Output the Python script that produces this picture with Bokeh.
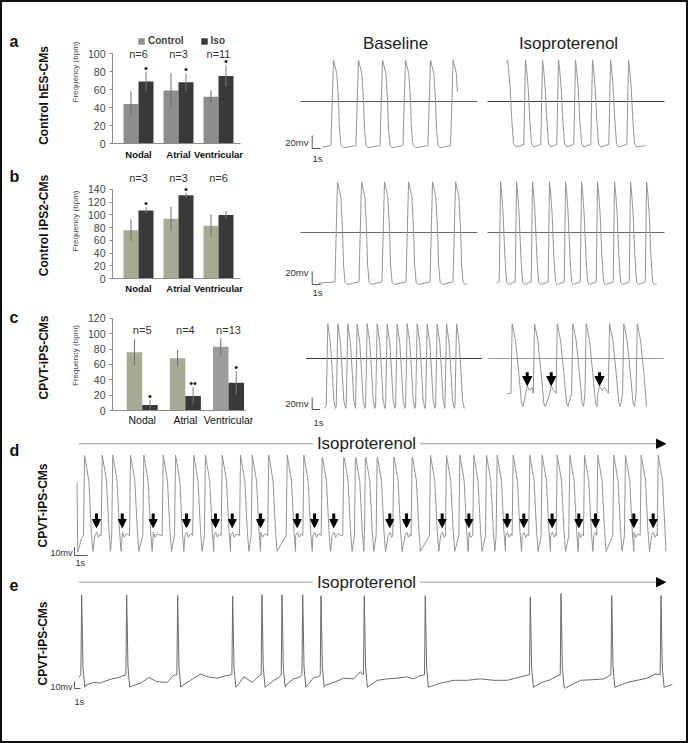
import math
from bokeh.plotting import figure
from bokeh.layouts import row, column
from bokeh.models import (Range1d, FixedTicker, Label, Legend, LegendItem, Arrow,
                          NormalHead, ColumnDataSource, InlineStyleSheet)
from bokeh.core.properties import value
from bokeh.embed import file_html
from bokeh.resources import INLINE

FONT = "Liberation Sans"

# ---------------- bar chart data ----------------
categories = ["Nodal", "Atrial", "Ventricular"]

a_control = [44, 59, 52]
a_control_err = [14, 19, 7]
a_iso = [69, 68, 75]
a_iso_err = [11, 10, 12]
a_n = ["n=6", "n=3", "n=11"]
a_sig = ["•", "•", "•"]
a_ticks = [0, 20, 40, 60, 80, 100]

b_control = [76, 94, 83]
b_control_err = [17, 19, 18]
b_iso = [107, 131, 100]
b_iso_err = [5, 4, 6]
b_n = ["n=3", "n=3", "n=6"]
b_sig = ["•", "•", ""]
b_ticks = [0, 20, 40, 60, 80, 100, 120, 140]

c_control = [76, 68, 83]
c_control_err = [17, 11, 11]
c_iso = [7, 19, 36]
c_iso_err = [7, 11, 15]
c_n = ["n=5", "n=4", "n=13"]
c_sig = ["•", "••", "•"]
c_ticks = [0, 20, 40, 60, 80, 100, 120]

# ---------------- action potential traces (time s, voltage mV) ----------------
a_base_peaks = [3.88, 6.82, 9.65, 12.35, 15.29, 17.95]
a_base_tmpl = [(-0.3, -68), (0, 64), (0.39, 43), (0.59, 2), (0.71, -45), (0.9, -68), (1.18, -71)]
a_base_start = [(2.55, -70)]
a_base_end = (18.45, 15)

a_iso_peaks = [2.35, 4.47, 6.47, 8.35, 10.35, 12.35, 14.47, 16.59]
a_iso_tmpl = [(-0.2, -66), (0, 64), (0.12, 52), (0.31, 22), (0.51, -29), (0.71, -65), (0.98, -70)]
a_iso_start = [(2.3, 60)]
a_iso_end = (18.59, -68)

b_base_peaks = [4.35, 7.18, 9.88, 12.71, 15.53, 18.24]
b_base_tmpl = [(-0.3, -76), (0, 78), (0.39, 55), (0.59, 5), (0.71, -50), (0.9, -77), (1.18, -80)]
b_base_start = [(2.1, -78)]
b_base_end = (19.6, -79)

b_iso_peaks = [1.53, 3.41, 5.29, 7.29, 9.18, 11.06, 12.94, 14.94, 16.82, 18.71]
b_iso_tmpl = [(-0.15, -76), (0, 78), (0.12, 64), (0.31, 28), (0.51, -35), (0.71, -76), (0.95, -80)]
b_iso_start = [(1.1, -78)]
b_iso_end = (19.9, -79)

c_base_peaks = [2.79, 4.04, 5.29, 6.46, 7.71, 8.96, 10.21, 11.46, 12.71, 13.96,
                15.21, 16.46, 17.63, 18.88]
c_base_tmpl = [(-0.2, -80), (0, 58), (0.33, 25), (0.54, -20), (0.75, -70), (0.96, -83)]
c_base_start = [(2.29, -83)]
c_base_end = (19.9, -82)

c_iso_peaks = [2.96, 5.75, 8.59, 10.54, 12.21, 15.13, 16.91, 18.59]
c_iso_tmpl = [(-0.15, -58), (0, 58), (0.42, 30), (0.83, -25), (1.17, -75), (1.35, -80)]
c_iso_dads = [4.84, 7.84, 13.88]
c_dad_shape = [(-0.25, -62), (0, -46), (0.3, -53), (0.6, -48)]
c_iso_start = [(2.34, -59)]
c_iso_end = (19.75, -80)

d_peaks = [1.08, 2.44, 3.25, 4.62, 5.64, 7.13, 8.08, 9.48, 10.38, 11.67, 13.08, 13.98,
           15.25, 16.67, 17.95, 19.36, 21.02, 21.92, 22.69, 23.59, 24.87, 26.28, 27.69,
           28.92, 29.95, 31.02, 32.0, 32.82, 34.05, 35.33, 36.28, 37.44, 38.41, 39.54,
           40.56, 41.79, 42.69, 43.9, 45.21]
d_dads = [2.0, 3.98, 6.36, 8.92, 11.15, 12.44, 14.62, 17.44, 18.77, 20.25, 24.56, 25.85,
          28.59, 30.64, 33.59, 34.87, 37.05, 39.1, 40.38, 43.33, 44.82]
d_tmpl = [(-0.08, -55), (0, 42), (0.33, 11), (0.52, -49), (0.64, -74)]
d_dad_shape = [(-0.12, -55), (0.02, -51), (0.15, -57), (0.3, -53), (0.45, -54)]
d_start = [(0.5, 9), (0.56, -75), (0.85, -58)]
d_end = (45.8, -74)

e_spikes = [1.78, 9.28, 17.78, 26.95, 31.83, 35.17, 38.62, 41.67, 48.88, 59.05,
            76.55, 81.67, 90.12, 98.33]
e_heights = [58, 58, 57, 56, 58, 58, 58, 58, 58, 57, 55, 60, 57, 57]
e_spike_tmpl = [(-0.05, -56), (0.08, None), (0.3, -45), (0.6, -74)]
e_start = (1.4, -60)
e_base = [(2.5, -71), (3.9, -67), (5.0, -68), (5.8, -65), (6.9, -62), (8.05, -60),
          (10.0, -73), (11.7, -68), (13.05, -60), (14.45, -66), (16.1, -67), (17.2, -57),
          (18.9, -70), (20.0, -64), (21.7, -55), (22.8, -59), (24.45, -61), (26.1, -57),
          (27.8, -72), (28.9, -59), (30.3, -67), (31.1, -60),
          (32.5, -72), (33.9, -64), (34.7, -60),
          (36.1, -69), (37.2, -62), (38.3, -59),
          (39.45, -71), (40.55, -60), (41.4, -59),
          (42.5, -71), (43.9, -67), (45.55, -61), (47.2, -62), (48.3, -52),
          (49.45, -73), (51.1, -64), (52.8, -62), (54.45, -61), (56.1, -59), (57.2, -62),
          (58.05, -58),
          (60.0, -73), (61.7, -68), (63.9, -64), (66.1, -64), (68.3, -62), (70.55, -64),
          (72.8, -64), (75.0, -59),
          (77.2, -73), (78.6, -67), (80.0, -63), (81.1, -58),
          (82.5, -75), (85.0, -64), (87.2, -63), (88.9, -62),
          (90.8, -75), (92.8, -67), (94.45, -64), (96.1, -61), (97.5, -55),
          (99.2, -73), (100.3, -70)]

scale_mv_abc = 20
scale_mv_de = 10
scale_s = 1


# ---------------- helpers ----------------
def no_align(p):
    try:
        p.frame_align = False
    except Exception:
        pass


def make_fig(gx, gy, gw, gh, frame, xr, yr):
    """Figure whose frame fills the whole canvas; ranges follow the given mapping."""
    fl, ft, fr, fb = frame
    sx = (xr[1] - xr[0]) / (fr - fl)
    sy = (yr[1] - yr[0]) / (fb - ft)
    X0 = xr[0] + (gx - fl) * sx
    X1 = xr[0] + (gx + gw - fl) * sx
    Y0 = yr[0] + (fb - (gy + gh)) * sy
    Y1 = yr[0] + (fb - gy) * sy
    p = figure(width=gw, height=gh, x_range=Range1d(X0, X1), y_range=Range1d(Y0, Y1),
               min_border_left=0, min_border_right=0, min_border_top=0, min_border_bottom=0,
               output_backend="svg", toolbar_location=None, title=None,
               x_axis_location=None, y_axis_location=None)
    no_align(p)
    p.outline_line_color = None
    p.grid.visible = False
    p.background_fill_color = "white"
    p.border_fill_color = "white"

    def px(rx, ry):
        return X0 + (rx - gx) * sx, Y1 - (ry - gy) * sy
    return p, px


def strip_fig(gy, gh):
    return make_fig(0, gy, 62, gh, (0, gy, 62, gy + gh), (0, 62), (0, gh))


def text_label(p, pos, text, size, style="normal", align="center", baseline="middle",
               angle=0.0, color="#222222", bg=None):
    kw = {}
    if bg is not None:
        kw = dict(background_fill_color=bg, padding=4)
    p.add_layout(Label(x=pos[0], y=pos[1], text=text, text_font=FONT,
                       text_font_size=size, text_font_style=style, text_align=align,
                       text_baseline=baseline, angle=angle, text_color=color, **kw))


def bar_fig(gx, gy, gw, gh, frame, xr, y_scale, ctrl, ctrl_err, iso, iso_err, ns, sigs,
            ticks, ctrl_colors, iso_color, half, n_y, cat_style, cat_size, cat_standoff):
    fl, ft, fr, fb = frame
    ytop = (fb - gy) / y_scale
    p = figure(width=gw, height=gh, x_range=Range1d(*xr), y_range=Range1d(0, ytop),
               min_border_left=fl - gx, min_border_right=gx + gw - fr,
               min_border_top=0, min_border_bottom=gy + gh - fb,
               output_backend="svg", toolbar_location=None, title=None)
    no_align(p)
    p.outline_line_color = None
    p.grid.visible = False
    xc = [i - half for i in range(len(categories))]
    xi = [i + half for i in range(len(categories))]
    src_c = ColumnDataSource(dict(x=xc, top=ctrl, color=ctrl_colors))
    r1 = p.vbar(x="x", top="top", width=2 * half, bottom=0, fill_color="color",
                line_color=None, source=src_c)
    r2 = p.vbar(x=xi, top=iso, width=2 * half, bottom=0, fill_color=iso_color,
                line_color=None)
    p.segment(x0=xc, y0=[max(v - e, 0) for v, e in zip(ctrl, ctrl_err)], x1=xc,
              y1=[v + e for v, e in zip(ctrl, ctrl_err)], line_color="#6e6e6e", line_width=1)
    p.segment(x0=xi, y0=[max(v - e, 0) for v, e in zip(iso, iso_err)], x1=xi,
              y1=[v + e for v, e in zip(iso, iso_err)], line_color="#7a7a7a", line_width=1)
    p.text(x=list(range(len(categories))), y=[n_y] * 3, text=ns, text_font=value(FONT),
           text_font_size="11px", text_align="center", text_baseline="middle",
           text_color="#333333")
    p.text(x=xi, y=[v + e for v, e in zip(iso, iso_err)], text=sigs, text_font=value(FONT),
           text_font_size="11px", text_align="center", text_baseline="middle",
           y_offset=-4, text_color="#111111")
    ya = p.yaxis[0]
    ya.ticker = FixedTicker(ticks=ticks)
    ya.bounds = (0, ticks[-1])
    ya.axis_label = "Frequency (bpm)"
    ya.axis_label_text_font = FONT
    ya.axis_label_text_font_size = "8px"
    ya.axis_label_text_font_style = "normal"
    ya.axis_label_text_color = "#444444"
    ya.axis_label_standoff = 5
    ya.major_label_text_font = FONT
    ya.major_label_text_font_size = "10.5px"
    ya.major_label_text_color = "#444444"
    ya.axis_line_color = "#8a8a8a"
    ya.major_tick_line_color = "#8a8a8a"
    ya.major_tick_out = 3
    ya.major_tick_in = 0
    ya.minor_tick_line_color = None
    ya.minor_tick_out = 0
    ya.major_label_standoff = 4
    xa = p.xaxis[0]
    xa.ticker = FixedTicker(ticks=list(range(len(categories))))
    xa.major_label_overrides = {i: c for i, c in enumerate(categories)}
    xa.major_label_text_font = FONT
    xa.major_label_text_font_size = cat_size
    xa.major_label_text_font_style = cat_style
    xa.major_label_text_color = "#111111"
    xa.axis_line_color = "#8a8a8a"
    xa.major_tick_line_color = None
    xa.minor_tick_line_color = None
    xa.major_tick_out = 0
    xa.minor_tick_out = 0
    xa.major_label_standoff = cat_standoff
    return p, r1, r2


def build_ap(peaks, tmpl, start_pts, end_pt, dads=(), dad_shape=()):
    xs = [pt[0] for pt in start_pts]
    ys = [pt[1] for pt in start_pts]
    foot = tmpl[0][0]
    for i, T in enumerate(peaks):
        nxt = peaks[i + 1] if i + 1 < len(peaks) else None
        for dt, v in tmpl:
            t = T + dt
            if t <= xs[-1] or t >= end_pt[0]:
                continue
            xs.append(t)
            ys.append(v)
        if nxt is not None:
            for D in dads:
                if T < D < nxt:
                    for dt, v in dad_shape:
                        t = D + dt
                        if xs[-1] < t < nxt + foot:
                            xs.append(t)
                            ys.append(v)
    xs.append(end_pt[0])
    ys.append(end_pt[1])
    return xs, ys


def build_spikes(base_pts, spikes, heights, tmpl, start):
    pts = [start]
    for t, v in base_pts:
        if all(not (T - 0.1 < t < T + 0.7) for T in spikes):
            pts.append((t, v))
    for T, H in zip(spikes, heights):
        for dt, v in tmpl:
            pts.append((T + dt, H if v is None else v))
    pts.sort()
    return [q[0] for q in pts], [q[1] for q in pts]


def scale_bar(p, pos, mv):
    t0, v0 = pos
    p.segment(x0=[t0, t0], y0=[v0, v0], x1=[t0, t0 + scale_s], y1=[v0 + mv, v0],
              line_color="#555555", line_width=1)


def zero_line(p, px, x_from, x_to, color):
    p.segment(x0=[px(x_from, 0)[0]], y0=[0], x1=[px(x_to, 0)[0]], y1=[0],
              line_color=color, line_width=1)


def dad_arrows(p, times, y_top, y_tip, head):
    src = ColumnDataSource(dict(x0=times, y0=[y_top] * len(times), x1=times,
                                y1=[y_tip] * len(times)))
    p.add_layout(Arrow(x_start="x0", y_start="y0", x_end="x1", y_end="y1", source=src,
                       line_color="black", line_width=3,
                       end=NormalHead(size=head, fill_color="black", line_color="black",
                                      line_width=1)))


TRACE = "#959595"

# ---------------- Row a ----------------
La, pxLa = strip_fig(0, 163)
text_label(La, pxLa(9, 41), "a", "16px", "bold", align="left", color="#111111")
text_label(La, pxLa(43, 95), "Control hES-CMs", "12px", "bold", angle=math.pi / 2,
           color="#111111")

A1, rA1c, rA1i = bar_fig(62, 0, 191, 163, (112, 0, 240, 143), (-0.65, 2.55), 0.9,
                         a_control, a_control_err, a_iso, a_iso_err, a_n, a_sig, a_ticks,
                         ["#8e8e8e"] * 3, "#393939", 0.1875, 100, "bold", "9.5px", 5)
legend = Legend(items=[LegendItem(label="Control", renderers=[rA1c], index=0),
                       LegendItem(label="Iso", renderers=[rA1i], index=0)],
                orientation="horizontal", location=(25, 97), label_text_font=FONT,
                label_text_font_size="10px", label_text_font_style="bold",
                glyph_width=8, glyph_height=8, spacing=16, padding=0, margin=0,
                border_line_color=None, background_fill_alpha=0, label_standoff=3,
                label_height=10)
A1.add_layout(legend)

A2, pxA2 = make_fig(253, 0, 229, 163, (300, 55, 477, 150), (0, 20.82), (-75.4, 70.8))
zero_line(A2, pxA2, 300, 477, "#5a5a5a")
x, y = build_ap(a_base_peaks, a_base_tmpl, a_base_start, a_base_end)
A2.line(x, y, line_color=TRACE, line_width=1)
scale_bar(A2, pxA2(311.7, 148), scale_mv_abc)
text_label(A2, pxA2(395, 43), "Baseline", "17px")
text_label(A2, pxA2(308, 142), "20mv", "9.5px", align="right", color="#333333")
text_label(A2, pxA2(312, 158), "1s", "9.5px", align="left", color="#333333")

A3, pxA3 = make_fig(482, 0, 206, 163, (487, 55, 664, 150), (0, 20.82), (-75.4, 70.8))
zero_line(A3, pxA3, 487, 664, "#3c3c3c")
x, y = build_ap(a_iso_peaks, a_iso_tmpl, a_iso_start, a_iso_end)
A3.line(x, y, line_color=TRACE, line_width=1)
text_label(A3, pxA3(568, 43), "Isoproterenol", "17px")

# ---------------- Row b ----------------
green = "#a6ab93"
Lb, pxLb = strip_fig(163, 137)
text_label(Lb, pxLb(9, 176), "b", "16px", "bold", align="left", color="#111111")
text_label(Lb, pxLb(43, 225), "Control iPS2-CMs", "12px", "bold", angle=math.pi / 2,
           color="#111111")

B1, _, _ = bar_fig(62, 163, 191, 137, (112, 163, 240, 278), (-0.65, 2.55), 0.636,
                   b_control, b_control_err, b_iso, b_iso_err, b_n, b_sig, b_ticks,
                   [green] * 3, "#393939", 0.1875, 157.7, "bold", "9.5px", 4)

B2, pxB2 = make_fig(253, 163, 229, 137, (300, 176, 477, 289), (0, 20.82), (-87.7, 86.2))
zero_line(B2, pxB2, 300, 477, "#666666")
x, y = build_ap(b_base_peaks, b_base_tmpl, b_base_start, b_base_end)
B2.line(x, y, line_color=TRACE, line_width=1)
scale_bar(B2, pxB2(311.7, 284), scale_mv_abc)
text_label(B2, pxB2(308, 272), "20mv", "9.5px", align="right", color="#333333")
text_label(B2, pxB2(312, 292), "1s", "9.5px", align="left", color="#333333")

B3, pxB3 = make_fig(482, 163, 206, 137, (487, 176, 664, 289), (0, 20.82), (-87.7, 86.2))
zero_line(B3, pxB3, 487, 664, "#666666")
x, y = build_ap(b_iso_peaks, b_iso_tmpl, b_iso_start, b_iso_end)
B3.line(x, y, line_color=TRACE, line_width=1)

# ---------------- Row c ----------------
Lc, pxLc = strip_fig(300, 128)
text_label(Lc, pxLc(9, 317), "c", "16px", "bold", align="left", color="#111111")
text_label(Lc, pxLc(43, 357), "CPVT-iPS-CMs", "12px", "bold", angle=math.pi / 2,
           color="#111111")

C1, _, _ = bar_fig(62, 300, 191, 128, (112, 300, 245, 411), (-0.688, 2.394), 0.775,
                   c_control, c_control_err, c_iso, c_iso_err, c_n, c_sig, c_ticks,
                   [green, green, "#9c9c9c"], "#393939", 0.18, 104.5, "normal", "10.5px", 3)

C2, pxC2 = make_fig(253, 300, 229, 128, (305, 318, 482, 415), (0, 22.125), (-95, 66.7))
zero_line(C2, pxC2, 305.7, 481.7, "#333333")
x, y = build_ap(c_base_peaks, c_base_tmpl, c_base_start, c_base_end)
C2.line(x, y, line_color=TRACE, line_width=1)
scale_bar(C2, pxC2(311.7, 409), scale_mv_abc)
text_label(C2, pxC2(308, 403), "20mv", "9.5px", align="right", color="#333333")
text_label(C2, pxC2(313, 422), "1s", "9.5px", align="left", color="#333333")

C3, pxC3 = make_fig(482, 300, 206, 128, (488, 318, 664, 415), (0, 22.0), (-95, 66.7))
zero_line(C3, pxC3, 488, 663, "#9a9a9a")
x, y = build_ap(c_iso_peaks, c_iso_tmpl, c_iso_start, c_iso_end, c_iso_dads, c_dad_shape)
C3.line(x, y, line_color=TRACE, line_width=1)
dad_arrows(C3, c_iso_dads, pxC3(0, 371.7)[1], pxC3(0, 385)[1], 9)

# ---------------- Row d ----------------
D, pxD = make_fig(0, 428, 688, 142, (70, 436, 668, 565), (0, 46.0), (-91.0, 64.4))
x, y = build_ap(d_peaks, d_tmpl, d_start, d_end, d_dads, d_dad_shape)
D.line(x, y, line_color=TRACE, line_width=1)
dad_arrows(D, d_dads, pxD(0, 513)[1], pxD(0, 527)[1], 8)
scale_bar(D, pxD(74, 555), scale_mv_de)
yv = pxD(0, 443.3)[1]
D.add_layout(Arrow(x_start=pxD(78.3, 0)[0], y_start=yv, x_end=pxD(665, 0)[0], y_end=yv,
                   line_color="#9a9a9a", line_width=1,
                   end=NormalHead(size=9, fill_color="black", line_color="black")))
text_label(D, pxD(366, 443.3), "Isoproterenol", "17px", bg="white")
text_label(D, pxD(9, 450), "d", "16px", "bold", align="left", color="#111111")
text_label(D, pxD(42, 505), "CPVT-iPS-CMs", "12px", "bold", angle=math.pi / 2,
           color="#111111")
text_label(D, pxD(72, 552), "10mv", "9px", align="right", color="#333333")
text_label(D, pxD(75, 562), "1s", "9px", align="left", color="#333333")

# ---------------- Row e ----------------
E, pxE = make_fig(0, 570, 688, 173, (70, 575, 672, 705), (0, 100.33), (-100, 85.7))
x, y = build_spikes(e_base, e_spikes, e_heights, e_spike_tmpl, e_start)
E.line(x, y, line_color="#6a6a6a", line_width=1)
scale_bar(E, pxE(74, 688), scale_mv_de)
yv = pxE(0, 581.7)[1]
E.add_layout(Arrow(x_start=pxE(78.3, 0)[0], y_start=yv, x_end=pxE(665, 0)[0], y_end=yv,
                   line_color="#9a9a9a", line_width=1,
                   end=NormalHead(size=9, fill_color="black", line_color="black")))
text_label(E, pxE(366, 581.7), "Isoproterenol", "17px", bg="white")
text_label(E, pxE(9, 584), "e", "16px", "bold", align="left", color="#111111")
text_label(E, pxE(42, 643), "CPVT-iPS-CMs", "12px", "bold", angle=math.pi / 2,
           color="#111111")
text_label(E, pxE(72, 686), "10mv", "9px", align="right", color="#333333")
text_label(E, pxE(74, 701), "1s", "9px", align="left", color="#333333")

frame_css = InlineStyleSheet(css=(
    ":host { position: relative; }"
    ":host::after { content: ''; position: absolute; left: 0; top: 0; right: 0; bottom: 0;"
    " border: 2px solid #111111; pointer-events: none; z-index: 1000; }"))

layout = column(row(La, A1, A2, A3, spacing=0), row(Lb, B1, B2, B3, spacing=0),
                row(Lc, C1, C2, C3, spacing=0), D, E, spacing=0,
                stylesheets=[frame_css])

open("out.html", "w").write(file_html(layout, INLINE))
